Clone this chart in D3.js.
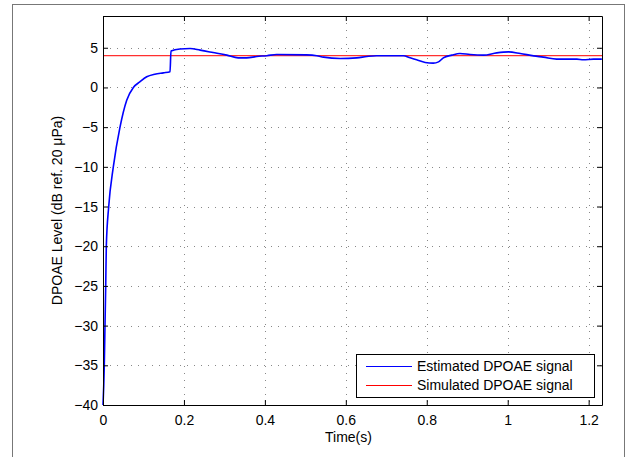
<!DOCTYPE html>
<html>
<head>
<meta charset="utf-8">
<script src="https://cdn.jsdelivr.net/npm/d3@7"></script>
<style>
  body { margin: 0; background: #fff; }
  svg text { font-family: "Liberation Sans", Arial, sans-serif; fill: #000; }
</style>
</head>
<body>
<div id="chart"></div>
<script>
// DATA
const timeValues = [0, 0.0032, 0.0049, 0.0067, 0.0082, 0.0141, 0.0255, 0.042, 0.0586, 0.075,
  0.091, 0.108, 0.128, 0.149, 0.1656, 0.168, 0.19, 0.215, 0.24, 0.272,
  0.306, 0.334, 0.355, 0.38, 0.405, 0.429, 0.503, 0.528, 0.545, 0.586,
  0.627, 0.652, 0.676, 0.742, 0.759, 0.775, 0.796, 0.816, 0.829, 0.841,
  0.862, 0.882, 0.907, 0.94, 0.973, 1.002, 1.031, 1.064, 1.088, 1.121,
  1.171, 1.187, 1.212, 1.2326];
const estimatedLevels = [-40, -35, -30, -25, -20, -15, -10, -5, -1.6, 0,
  0.7, 1.34, 1.67, 1.84, 1.97, 4.6, 4.85, 4.9, 4.7, 4.4,
  4.07, 3.73, 3.73, 3.9, 4.0, 4.15, 4.1, 4.0, 3.82, 3.65,
  3.73, 3.9, 4.0, 4.0, 3.73, 3.48, 3.15, 3.06, 3.22, 3.73,
  4.07, 4.28, 4.15, 4.07, 4.36, 4.48, 4.28, 3.98, 3.82, 3.57,
  3.57, 3.48, 3.57, 3.57];
const simulatedLevel = 4;
const xTicks = [0, 0.2, 0.4, 0.6, 0.8, 1, 1.2];
const yTicks = [-40, -35, -30, -25, -20, -15, -10, -5, 0, 5];
const legendLabels = ["Estimated DPOAE signal", "Simulated DPOAE signal"];

const width = 635, height = 457;
const margin = {top: 16, right: 33, bottom: 52, left: 103};
const plotW = width - margin.left - margin.right;
const plotH = height - margin.top - margin.bottom;

const svg = d3.select('#chart').append('svg')
    .attr('width', width)
    .attr('height', height);

// figure frame
svg.append('rect')
    .attr('x', 12.5).attr('y', 4.5)
    .attr('width', 612).attr('height', 470)
    .attr('fill', 'none')
    .attr('stroke', '#777');

const g = svg.append('g')
    .attr('transform', `translate(${margin.left},${margin.top})`);

const x = d3.scaleLinear().domain([0, 1.233]).range([0, plotW]);
const y = d3.scaleLinear().domain([-40, 9]).range([plotH, 0]);

// GRID
g.append('g').selectAll('line').data(xTicks.slice(1)).join('line')
    .attr('x1', d => Math.round(x(d)) + 0.5).attr('x2', d => Math.round(x(d)) + 0.5)
    .attr('y1', 0).attr('y2', plotH)
    .attr('stroke', '#888').attr('stroke-dasharray', '1,6');
g.append('g').selectAll('line').data(yTicks.slice(1)).join('line')
    .attr('y1', d => Math.round(y(d)) + 0.5).attr('y2', d => Math.round(y(d)) + 0.5)
    .attr('x1', 0).attr('x2', plotW)
    .attr('stroke', '#888').attr('stroke-dasharray', '1,6');

// LINES
const series = timeValues.map((t, i) => ({t, v: estimatedLevels[i]}));
g.append('line')
    .attr('x1', x(0)).attr('x2', plotW)
    .attr('y1', y(simulatedLevel)).attr('y2', y(simulatedLevel))
    .attr('stroke', '#ff3030').attr('stroke-width', 1.2);

g.append('path').datum(series)
    .attr('fill', 'none')
    .attr('stroke', '#0000ff')
    .attr('stroke-width', 1.6)
    .attr('d', d3.line().x(d => x(d.t)).y(d => y(d.v)).curve(d3.curveMonotoneX));

// AXES
const fmt = d => d3.format('')(d).replace('-', '\u2212');
const xAxis = g.append('g').attr('transform', `translate(0,${plotH})`)
    .call(d3.axisBottom(x).tickValues(xTicks).tickSizeInner(-5).tickSizeOuter(0).tickPadding(10).tickFormat(fmt));
const yAxis = g.append('g')
    .call(d3.axisLeft(y).tickValues(yTicks).tickSizeInner(-5).tickSizeOuter(0).tickPadding(10).tickFormat(fmt));
g.append('g')
    .call(d3.axisTop(x).tickValues(xTicks).tickSizeInner(-5).tickSizeOuter(0).tickFormat(''));
g.append('g').attr('transform', `translate(${plotW},0)`)
    .call(d3.axisRight(y).tickValues(yTicks).tickSizeInner(-5).tickSizeOuter(0).tickFormat(''));

g.selectAll('.domain').attr('stroke', '#000');
g.selectAll('.tick line').attr('stroke', '#000');
g.selectAll('.tick text').attr('font-size', 14).attr('fill', '#000');
xAxis.selectAll('.tick text').attr('dy', '0.75em').attr('y', 9);
yAxis.selectAll('.tick text').attr('x', -5);

// LABELS
svg.append('text')
    .attr('x', margin.left + plotW / 2 - 4)
    .attr('y', 442)
    .attr('text-anchor', 'middle')
    .attr('font-size', 14)
    .text('Time(s)');

svg.append('text')
    .attr('transform', `translate(62,${margin.top + plotH / 2}) rotate(-90)`)
    .attr('text-anchor', 'middle')
    .attr('font-size', 14)
    .text('DPOAE Level (dB ref. 20 \u03bcPa)');

// LEGEND
const legend = svg.append('g').attr('transform', 'translate(356,354)');
legend.append('rect')
    .attr('x', 0.5).attr('y', 0.5)
    .attr('width', 238).attr('height', 43)
    .attr('fill', '#fff').attr('stroke', '#000');
const legendColors = ['#0000ff', '#ff0000'];
legendLabels.forEach((label, i) => {
    const ly = 12.5 + i * 19;
    legend.append('line')
        .attr('x1', 10).attr('x2', 56)
        .attr('y1', ly).attr('y2', ly)
        .attr('stroke', legendColors[i]).attr('stroke-width', 1);
    legend.append('text')
        .attr('x', 61).attr('y', ly)
        .attr('dy', '0.35em')
        .attr('font-size', 14)
        .text(label);
});
</script>
</body>
</html>
